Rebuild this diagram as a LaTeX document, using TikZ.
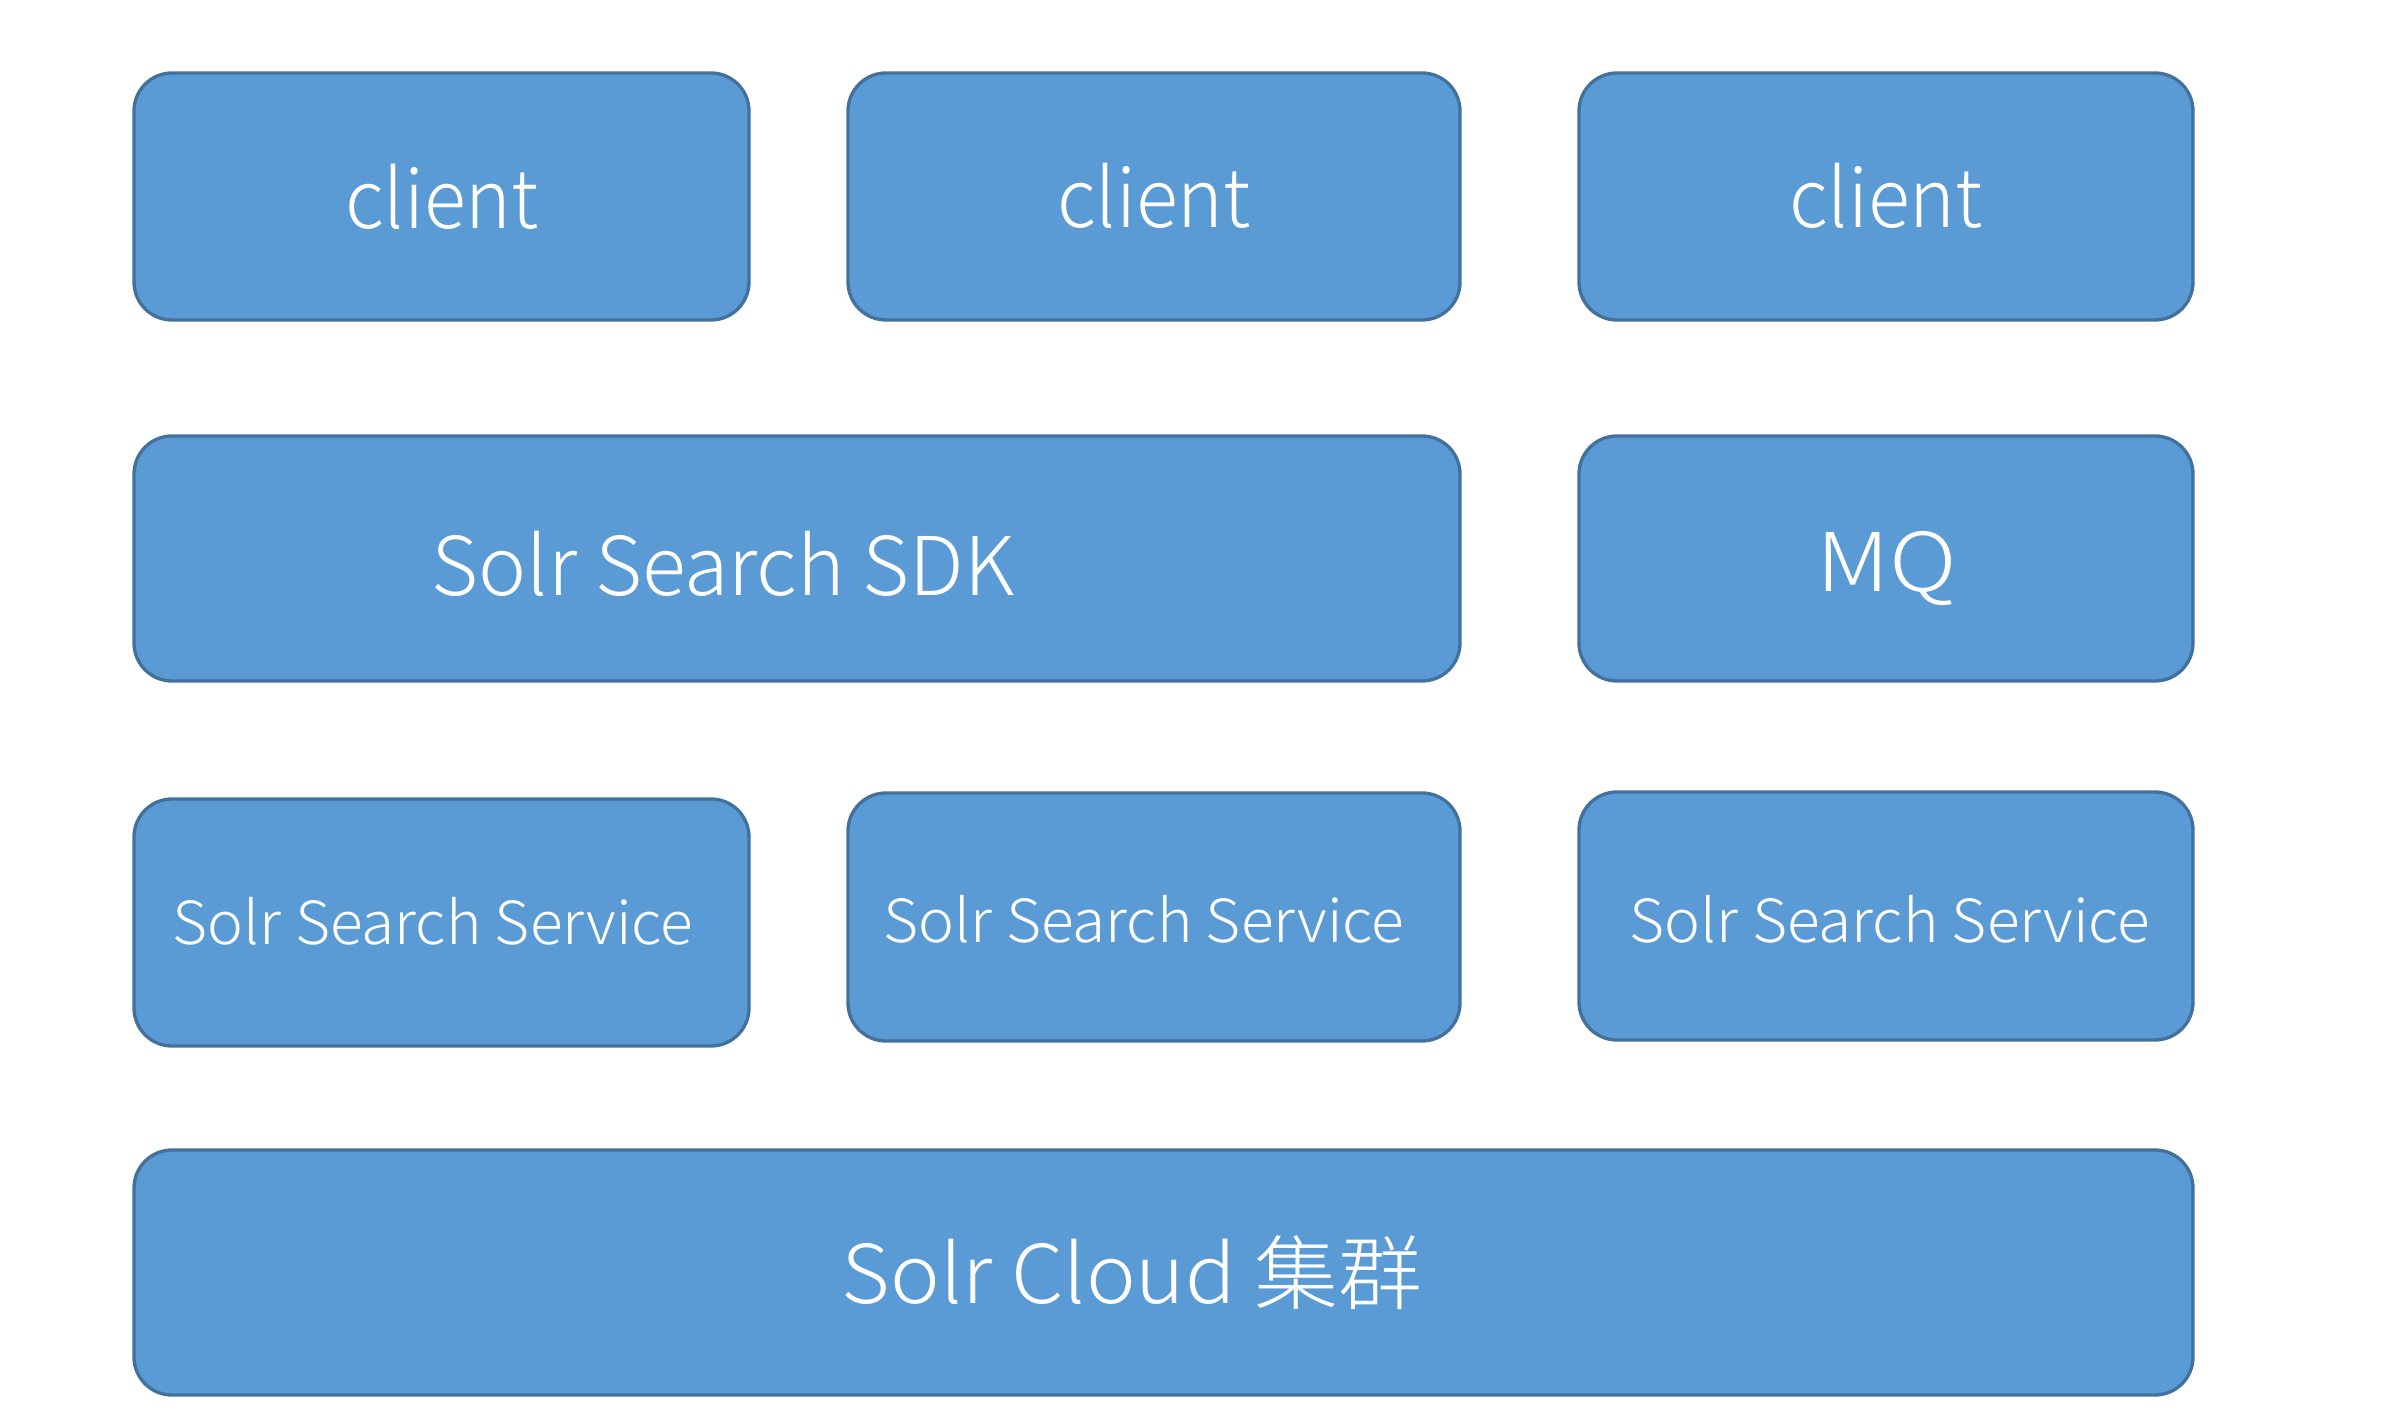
\documentclass[tikz,border=0pt]{standalone}
\usepackage{fontspec}
\setmainfont{Noto Sans CJK SC Light}
\definecolor{boxfill}{HTML}{5B9BD5}
\definecolor{boxline}{HTML}{41719C}
\newcommand\hsq[2]{\scalebox{#1}[1]{#2}}
\tikzset{
  blk/.style={draw=boxline, fill=boxfill, line width=1pt, rounded corners=11.4pt},
  big/.style={text=white, font=\fontsize{24.3}{29}\selectfont, anchor=base, inner sep=0pt},
  small/.style={text=white, font=\fontsize{17.8}{21}\selectfont, anchor=base, inner sep=0pt},
}
\begin{document}
\begin{tikzpicture}[x=0.3pt, y=-0.3pt]
\useasboundingbox (0,0) rectangle (2400,1428);
% boxes
\draw[blk] (134,73) rectangle (749,320);
\draw[blk] (848,73) rectangle (1460,320);
\draw[blk] (1579,73) rectangle (2193,320);
\draw[blk] (134,436) rectangle (1460,681);
\draw[blk] (1579,436) rectangle (2193,681);
\draw[blk] (134,799) rectangle (749,1046);
\draw[blk] (848,793) rectangle (1460,1041);
\draw[blk] (1579,792) rectangle (2193,1040);
\draw[blk] (134,1150) rectangle (2193,1395);
% texts
\node[big] (c1) at (442,229) {\hsq{0.955}{client}};
\node[big] (c2) at (1154,228) {\hsq{0.955}{client}};
\node[big] (c3) at (1886,228) {\hsq{0.955}{client}};
\node[big] (sdk) at (723,596) {\hsq{1.0}{Solr Search SDK}};
\node[big] (mq) at (1887,592) {\hsq{1.15}{MQ}};
\node[small] (s1) at (433,945) {\hsq{1.02}{Solr Search Service}};
\node[small] (s2) at (1144,943) {\hsq{1.02}{Solr Search Service}};
\node[small] (s3) at (1890,943) {\hsq{1.02}{Solr Search Service}};
\node[big] (cloud) at (1132,1303) {\hsq{1.035}{Solr Cloud 集群}};
\end{tikzpicture}
\end{document}
